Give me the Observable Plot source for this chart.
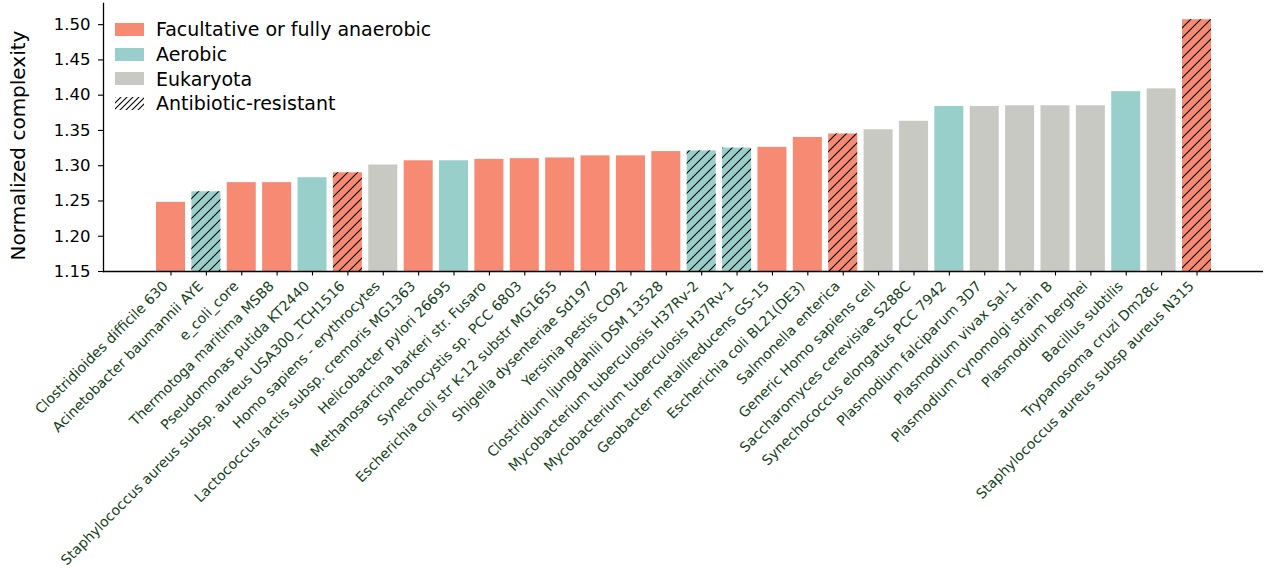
<!DOCTYPE html>
<html>
<head>
<meta charset="utf-8">
<script src="https://cdn.jsdelivr.net/npm/d3@7"></script>
<script src="https://cdn.jsdelivr.net/npm/@observablehq/plot@0.6"></script>
<style>
  body { margin: 0; background: #fff; font-family: "DejaVu Sans", sans-serif; }
  #wrap { position: relative; width: 1274px; height: 569px; }
  .legend { position: absolute; left: 115px; top: 17px; font-size: 19px; color: #000; }
  .legend .row { display: flex; align-items: center; height: 24.7px; }
  .legend svg { display: block; margin-right: 12px; }
</style>
</head>
<body>
<div id="wrap"></div>
<script>
// Organisms, sorted by normalized complexity
const organisms = [
  "Clostridioides difficile 630",
  "Acinetobacter baumannii AYE",
  "e_coli_core",
  "Thermotoga maritima MSB8",
  "Pseudomonas putida KT2440",
  "Staphylococcus aureus subsp. aureus USA300_TCH1516",
  "Homo sapiens - erythrocytes",
  "Lactococcus lactis subsp. cremoris MG1363",
  "Helicobacter pylori 26695",
  "Methanosarcina barkeri str. Fusaro",
  "Synechocystis sp. PCC 6803",
  "Escherichia coli str K-12 substr MG1655",
  "Shigella dysenteriae Sd197",
  "Yersinia pestis CO92",
  "Clostridium ljungdahlii DSM 13528",
  "Mycobacterium tuberculosis H37Rv-2",
  "Mycobacterium tuberculosis H37Rv-1",
  "Geobacter metallireducens GS-15",
  "Escherichia coli BL21(DE3)",
  "Salmonella enterica",
  "Generic Homo sapiens cell",
  "Saccharomyces cerevisiae S288C",
  "Synechococcus elongatus PCC 7942",
  "Plasmodium falciparum 3D7",
  "Plasmodium vivax Sal-1",
  "Plasmodium cynomolgi strain B",
  "Plasmodium berghei",
  "Bacillus subtilis",
  "Trypanosoma cruzi Dm28c",
  "Staphylococcus aureus subsp aureus N315"
];

const complexity = [
  1.248, 1.263, 1.276, 1.276, 1.283, 1.290, 1.301, 1.307, 1.307, 1.309,
  1.310, 1.311, 1.314, 1.314, 1.320, 1.321, 1.325, 1.326, 1.340, 1.345,
  1.351, 1.363, 1.384, 1.384, 1.385, 1.385, 1.385, 1.405, 1.409, 1.507
];

// A = facultative or fully anaerobic, O = aerobic, E = eukaryota
const metabolism = [
  "A", "O", "A", "A", "O", "A", "E", "A", "O", "A",
  "A", "A", "A", "A", "A", "O", "O", "A", "A", "A",
  "E", "E", "O", "E", "E", "E", "E", "O", "E", "A"
];

const resistant = [
  false, true, false, false, false, true, false, false, false, false,
  false, false, false, false, false, true, true, false, false, true,
  false, false, false, false, false, false, false, false, false, true
];

const groupCodes = ["A", "O", "E"];
const groupLabels = ["Facultative or fully anaerobic", "Aerobic", "Eukaryota"];
const groupColors = ["#f68a72", "#99cfcb", "#c9c9c4"];
const hatchLabel = "Antibiotic-resistant";

const yTicks = [1.15, 1.20, 1.25, 1.30, 1.35, 1.40, 1.45, 1.50];
const yLabel = "Normalized complexity";

const rows = organisms.map((name, i) => ({
  name, value: complexity[i], group: metabolism[i], resistant: resistant[i]
}));

const baseline = 1.15;

const chart = Plot.plot({
  width: 1274,
  height: 569,
  marginTop: 3,
  marginBottom: 298,
  marginLeft: 103,
  marginRight: 11,
  style: { fontFamily: "DejaVu Sans", fontSize: "14px", background: "white", color: "#000" },
  x: {
    domain: organisms, range: [152.8, 1214.2], round: false,
    paddingInner: 0.18, paddingOuter: 0.09, axis: null
  },
  y: { domain: [1.15, 1.53], axis: null },
  color: { domain: groupCodes, range: groupColors },
  marks: [
    Plot.barY(rows, { x: "name", y1: baseline, y2: "value", fill: "group" }),
    Plot.barY(rows.filter(d => d.resistant), { x: "name", y1: baseline, y2: "value", fill: "url(#hatch)" }),
    Plot.axisY({
      ticks: yTicks, tickSize: 5, tickPadding: 8, tickFormat: d3.format(".2f"),
      fontSize: 16.5, label: null, strokeWidth: 1.1
    }),
    Plot.axisX({ tickSize: 4.5, tickFormat: () => "", label: null, strokeWidth: 1.1 }),
    Plot.ruleY([baseline], { strokeWidth: 1.3 }),
    Plot.frame({ anchor: "left", strokeWidth: 1.3 }),
    Plot.text(rows, {
      x: "name", frameAnchor: "bottom", text: "name", rotate: -45,
      textAnchor: "end", lineAnchor: "bottom", dx: -2.3, dy: 15.5,
      fontSize: 14, fill: "#154421"
    }),
    Plot.text([yLabel], {
      text: d => d, frameAnchor: "left", textAnchor: "middle", dx: -85, dy: 8, rotate: -90,
      fontSize: 20, fill: "#000"
    })
  ]
});

// Diagonal hatch used for antibiotic-resistant strains
function hatchPattern(id, step) {
  const ns = "http://www.w3.org/2000/svg";
  const s = step, h = step / 4;
  const defs = document.createElementNS(ns, "defs");
  const pat = document.createElementNS(ns, "pattern");
  pat.setAttribute("id", id);
  pat.setAttribute("patternUnits", "userSpaceOnUse");
  pat.setAttribute("width", s);
  pat.setAttribute("height", s);
  const path = document.createElementNS(ns, "path");
  path.setAttribute("d", `M0,${s}L${s},0M${-h},${h}L${h},${-h}M${s - h},${s + h}L${s + h},${s - h}`);
  path.setAttribute("stroke", "#000");
  path.setAttribute("stroke-width", 1.1);
  pat.appendChild(path);
  defs.appendChild(pat);
  return defs;
}
chart.insertBefore(hatchPattern("hatch", 10), chart.firstChild);

const wrap = document.getElementById("wrap");
wrap.appendChild(chart);

// Legend drawn over the upper-left corner of the plot area
const legend = document.createElement("div");
legend.className = "legend";
const entries = groupLabels.map((label, i) => ({ label, fill: groupColors[i] }))
  .concat([{ label: hatchLabel, fill: "url(#hatch-legend)" }]);
entries.forEach((e, i) => {
  const row = document.createElement("div");
  row.className = "row";
  const sw = d3.create("svg").attr("width", 29).attr("height", 13);
  if (i === entries.length - 1) sw.node().appendChild(hatchPattern("hatch-legend", 6));
  sw.append("rect").attr("width", 29).attr("height", 13).attr("fill", e.fill);
  row.appendChild(sw.node());
  const span = document.createElement("span");
  span.textContent = e.label;
  row.appendChild(span);
  legend.appendChild(row);
});
wrap.appendChild(legend);
</script>
</body>
</html>
